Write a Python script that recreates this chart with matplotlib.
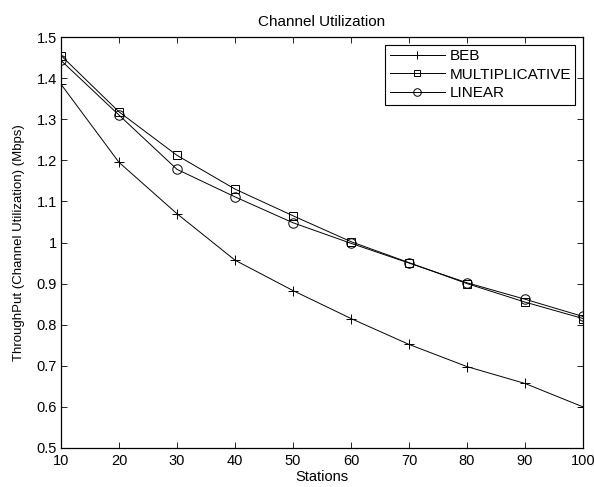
import matplotlib
matplotlib.use('Agg')
import matplotlib.pyplot as plt

# Données
stations = [10, 20, 30, 40, 50, 60, 70, 80, 90, 100]
beb = [1.385, 1.195, 1.070, 0.957, 0.883, 0.815, 0.752, 0.698, 0.657, 0.600]
multiplicative = [1.455, 1.318, 1.212, 1.130, 1.065, 1.002, 0.951, 0.900, 0.855, 0.815]
linear = [1.443, 1.310, 1.178, 1.111, 1.048, 0.998, 0.950, 0.902, 0.862, 0.820]
yticks = [0.5, 0.6, 0.7, 0.8, 0.9, 1, 1.1, 1.2, 1.3, 1.4, 1.5]
ytick_labels = ['0.5', '0.6', '0.7', '0.8', '0.9', '1', '1.1', '1.2', '1.3', '1.4', '1.5']

plt.rcParams['font.family'] = ['Liberation Sans', 'DejaVu Sans']
plt.rcParams['font.size'] = 10.5

fig = plt.figure(figsize=(5.94, 4.87), dpi=100)
ax = fig.add_axes([0.1027, 0.0801, 0.8788, 0.8439])

ax.plot(stations, beb, color='black', lw=0.7, marker='+', ms=7.5, mew=0.7, label='BEB')
ax.plot(stations, multiplicative, color='black', lw=0.7, marker='s', ms=6, mew=0.7,
        mfc='none', label='MULTIPLICATIVE')
ax.plot(stations, linear, color='black', lw=0.7, marker='o', ms=6.8, mew=0.7,
        mfc='none', label='LINEAR')

ax.set_xlim(10, 100)
ax.set_ylim(0.5, 1.5)
ax.set_xticks(stations)
ax.set_yticks(yticks)
ax.set_yticklabels(ytick_labels)
ax.tick_params(direction='in', top=True, right=True, length=4, width=0.6, labelsize=10.5)
ax.tick_params(axis='x', pad=4)
ax.tick_params(axis='y', pad=3)
for s in ax.spines.values():
    s.set_linewidth(0.9)

ax.set_xlabel('Stations', fontsize=10.5, labelpad=2)
ax.set_ylabel('ThroughPut (Channel Utilization) (Mbps)', fontsize=9.5, labelpad=8)
ax.set_title('Channel Utilization', fontsize=11, pad=8)

leg = ax.legend(loc='upper right', fancybox=False, edgecolor='black', framealpha=1,
                borderaxespad=0.5, handlelength=3.6, handletextpad=0.3,
                labelspacing=0.3, borderpad=0.3, fontsize=11, markerscale=0.8)
leg.get_frame().set_linewidth(0.8)

plt.savefig('out.png', dpi=100)
